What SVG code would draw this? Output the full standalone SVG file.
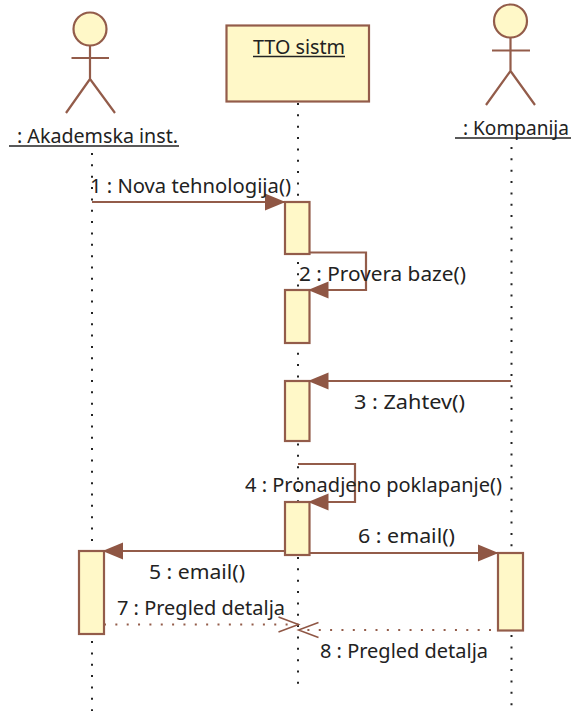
<svg xmlns="http://www.w3.org/2000/svg" width="573" height="712" viewBox="0 0 573 712">
<defs>
<marker id="fill" markerUnits="userSpaceOnUse" markerWidth="22" markerHeight="20" refX="20.500" refY="9" orient="auto"><path d="M0,0.500 L20.500,9 L0,17.500 Z" fill="#8f5644"/></marker>
<marker id="open" markerUnits="userSpaceOnUse" markerWidth="24" markerHeight="20" refX="20" refY="9" orient="auto" overflow="visible"><path d="M0,1.500 L20,9 L0,16.500" fill="none" stroke="#8f5644" stroke-width="1.500"/></marker>
</defs>
<style>
text{font-family:"Noto Sans","Open Sans",Tahoma,sans-serif;font-size:20px;fill:#222;}
.s{fill:none;stroke:#935c4a;stroke-width:2.200;}
.a{fill:#fff8c8;stroke:#935c4a;stroke-width:2.200;}
.ul{fill:none;stroke:#222;stroke-width:1.500;}
.life{fill:none;stroke:#222;stroke-width:2;stroke-dasharray:2 9.350;}
.msg{fill:none;stroke:#935c4a;stroke-width:2.200;marker-end:url(#fill);}
.ret{fill:none;stroke:#935c4a;stroke-width:2;stroke-dasharray:2 9.350;marker-end:url(#open);}
</style>
<g id="lifelines">
<path class="life" d="M92,153V711"/>
<path class="life" d="M298,103V690"/>
<path class="life" d="M511.500,147V706"/>
</g>
<g id="actor-akademska">
<circle class="a" cx="90" cy="29" r="16.500"/>
<path class="s" d="M90,45.500V79M71.500,58H109M66,113L90,79L115,113"/>
<text x="17" y="143" textLength="161" lengthAdjust="spacingAndGlyphs">: Akademska inst.</text>
<path class="ul" d="M9,146H179"/>
</g>
<g id="node-tto">
<rect class="a" x="226.500" y="25.500" width="142.500" height="76"/>
<text x="253" y="54" textLength="92" lengthAdjust="spacingAndGlyphs">TTO sistm</text>
<path class="ul" d="M253,56.500H345"/>
</g>
<g id="actor-kompanija">
<circle class="a" cx="510.500" cy="21" r="16.500"/>
<path class="s" d="M510.500,37.500V71M492,50.500H530M486,105L510.500,71L535,105"/>
<text x="463" y="135" textLength="106" lengthAdjust="spacingAndGlyphs">: Kompanija</text>
<path class="ul" d="M455,138H571"/>
</g>
<g id="activations">
<rect class="a" x="285" y="202" width="24.500" height="52"/>
<rect class="a" x="285" y="290" width="24.500" height="53"/>
<rect class="a" x="285" y="381" width="24.500" height="60"/>
<rect class="a" x="285" y="502" width="24.500" height="53"/>
<rect class="a" x="79" y="551" width="25" height="83"/>
<rect class="a" x="498" y="553" width="25" height="77.500"/>
</g>
<g id="connectors">
<path class="msg" d="M92,202H285.500"/>
<path class="msg" d="M309.500,252.500H366V290H308"/>
<path class="msg" d="M511,381H308"/>
<path class="msg" d="M298,464H355V502H308"/>
<path class="msg" d="M285,551H102.500"/>
<path class="msg" d="M309.500,553H498.500"/>
<path class="ret" d="M104,624.500H298.500"/>
<path class="ret" d="M491,630H298.500"/>
</g>
<g id="labels">
<text x="90" y="193" textLength="201" lengthAdjust="spacingAndGlyphs">1 : Nova tehnologija()</text>
<text x="299" y="281" textLength="167" lengthAdjust="spacingAndGlyphs">2 : Provera baze()</text>
<text x="354" y="409" textLength="111" lengthAdjust="spacingAndGlyphs">3 : Zahtev()</text>
<text x="245" y="492" textLength="257" lengthAdjust="spacingAndGlyphs">4 : Pronadjeno poklapanje()</text>
<text x="149" y="579" textLength="96" lengthAdjust="spacingAndGlyphs">5 : email()</text>
<text x="358" y="543" textLength="97" lengthAdjust="spacingAndGlyphs">6 : email()</text>
<text x="117" y="615" textLength="168" lengthAdjust="spacingAndGlyphs">7 : Pregled detalja</text>
<text x="320" y="658" textLength="168" lengthAdjust="spacingAndGlyphs">8 : Pregled detalja</text>
</g>
</svg>
